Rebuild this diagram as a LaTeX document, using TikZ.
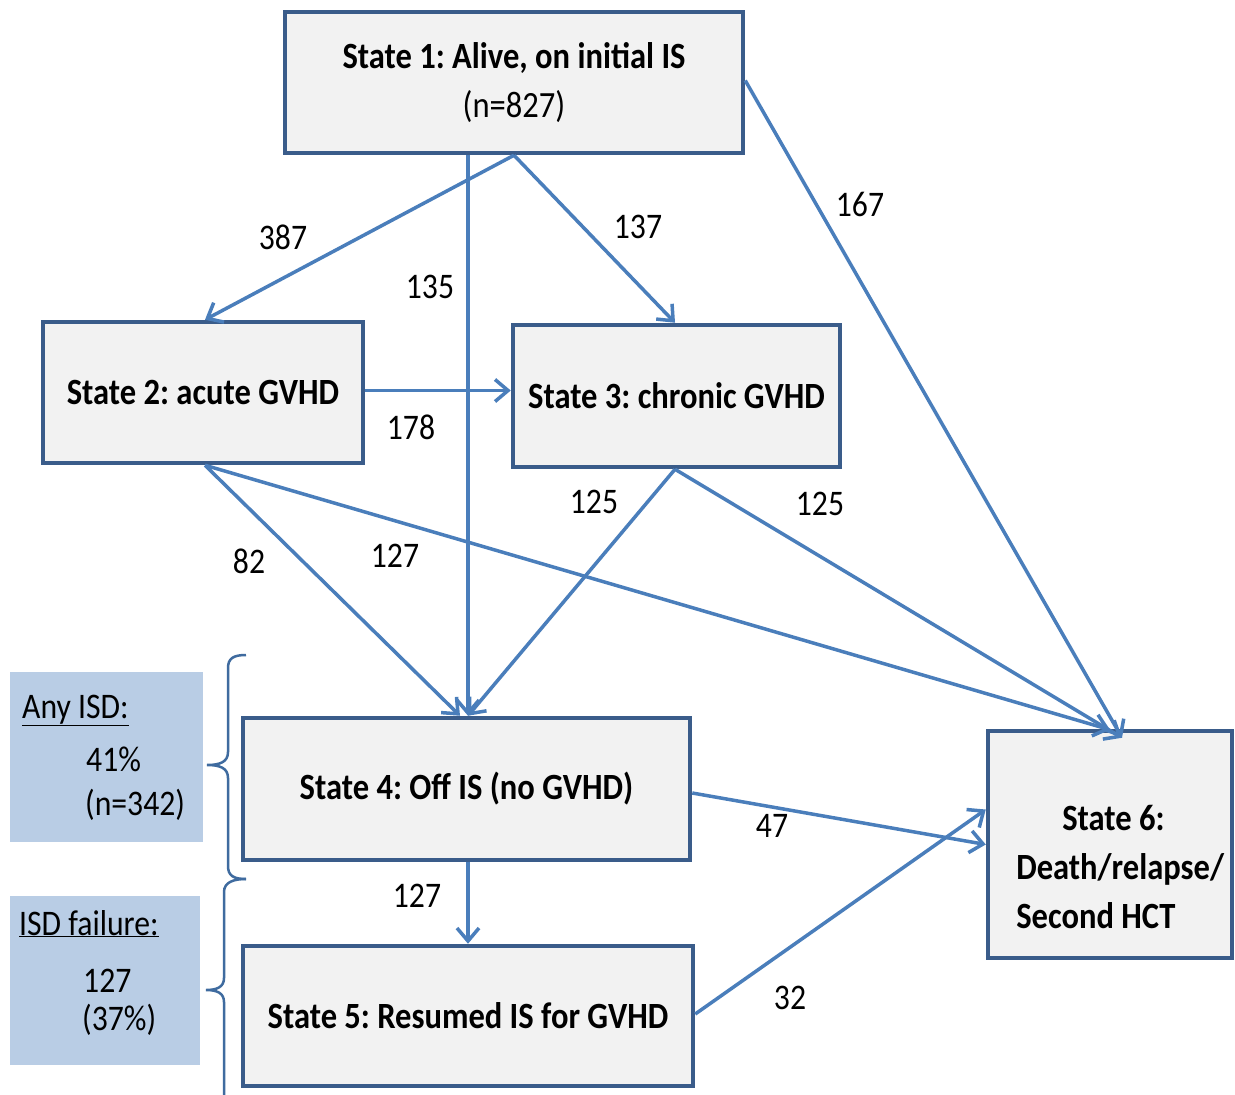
\documentclass[tikz,border=0pt]{standalone}
\usepackage{fontspec}
\setmainfont{Carlito}[FakeStretch=0.88]
\usetikzlibrary{arrows.meta}
\definecolor{boxline}{HTML}{3A5C8A}
\definecolor{arrowblue}{HTML}{4A7EBB}
\definecolor{boxfill}{HTML}{F2F2F2}
\definecolor{sidefill}{HTML}{B9CDE5}
\tikzset{
  statebox/.style={draw=boxline, line width=4.5pt, fill=boxfill, inner sep=0pt, align=center,
     font=\frenchspacing\fontsize{37}{49}\selectfont\bfseries},
  sidebox/.style={fill=sidefill, draw=none, inner sep=0pt},
  sidetext/.style={anchor=base west, inner sep=0pt, font=\frenchspacing\fontsize{36}{40}\selectfont},
  flow/.style={draw=arrowblue, line width=3.5pt, -{Straight Barb[length=13pt,width=22pt,line width=3.5pt]}},
  count/.style={inner sep=0pt, font=\fontsize{36}{40}\selectfont},
  bracket/.style={draw=arrowblue!85!black, line width=2.5pt},
}
\begin{document}
\begin{tikzpicture}[x=1pt,y=-1pt]
\useasboundingbox (0,0) rectangle (1235,1095);
% state boxes
\node[statebox, minimum width=458pt, minimum height=141pt] (b1) at (514,82.5)
   {State 1: Alive, on initial IS\\{\mdseries (n=827)}};
\node[statebox, minimum width=320pt, minimum height=141pt] (b2) at (203,392.5) {State 2: acute GVHD};
\node[statebox, minimum width=327pt, minimum height=142pt] (b3) at (676.5,396) {State 3: chronic GVHD};
\node[statebox, minimum width=447pt, minimum height=142pt] (b4) at (466.5,789) {State 4: Off IS (no GVHD)};
\node[statebox, minimum width=450pt, minimum height=140pt] (b5) at (468,1016) {State 5: Resumed IS for GVHD};
\node[statebox, minimum width=244pt, minimum height=227pt] (b6) at (1110,844.5) {};
\node[statebox, draw=none, fill=none, align=left, anchor=north west] (b6t) at (1014,803)
   {\hspace*{46pt}State 6:\\Death/relapse/\\Second HCT};
% side boxes
\node[sidebox, minimum width=193pt, minimum height=170pt] (sa) at (106.5,757) {};
\node[sidebox, minimum width=190pt, minimum height=169pt] (sb) at (105,980.5) {};
\node[sidetext] (sa1) at (22,718) {\underline{Any ISD:}};
\node[sidetext] (sa2) at (86,771) {41\%};
\node[sidetext] (sa3) at (85,815) {(n=342)};
\node[sidetext] (sb1) at (19,935) {\underline{ISD failure:}};
\node[sidetext] (sb2) at (83,992) {127};
\node[sidetext] (sb3) at (82,1030) {(37\%)};
% braces
\draw[bracket] (246,655) .. controls (234,655) and (228,658) .. (228,668) -- (228,752)
   .. controls (228,762) and (220,765) .. (207,765) .. controls (220,765) and (228,768) .. (228,778)
   -- (228,866) .. controls (228,876) and (234,879) .. (246,879);
\draw[bracket] (246,879) .. controls (234,879) and (224,882) .. (224,892) -- (224,978)
   .. controls (224,987) and (217,990) .. (206,990) .. controls (217,990) and (224,993) .. (224,1002)
   -- (224,1095);
% flows
\draw[flow] (b1.south) -- ([xshift=2pt]b2.north);
\draw[flow] ([xshift=-46pt]b1.south) -- ([xshift=1.5pt]b4.north);
\draw[flow] (b1.south) -- ([xshift=-1.5pt]b3.north);
\draw[flow] ([yshift=2pt]b1.east) -- ([xshift=12pt,yshift=-9pt]b6.north);
\draw[flow] ([yshift=2pt]b2.east) -- ([yshift=2pt]b2.east -| b3.west);
\draw[flow] ([xshift=2pt]b2.south) -- ([xshift=-6.5pt]b4.north);
\draw[flow] ([xshift=2pt]b2.south) -- ([yshift=-1pt]b6.north);
\draw[flow] ([xshift=-1.5pt]b3.south) -- ([xshift=1.5pt]b4.north);
\draw[flow] ([xshift=-1.5pt]b3.south) -- ([xshift=12pt,yshift=-9pt]b6.north);
\draw[flow] ([yshift=-4pt]b4.east) -- (b6.west);
\draw[flow] ([xshift=1.5pt]b4.south) -- ([xshift=1.5pt]b4.south |- b5.north);
\draw[flow] ([yshift=2pt]b5.east) -- ([yshift=35pt]b6.west);
% counts
\node[count] (c387) at (283,237) {387};
\node[count] (c135) at (430,287) {135};
\node[count] (c137) at (638,227) {137};
\node[count] (c167) at (860,204) {167};
\node[count] (c178) at (411,427) {178};
\node[count] (c82) at (249,561) {82};
\node[count] (c127a) at (395,556) {127};
\node[count] (c125a) at (594,502) {125};
\node[count] (c125b) at (820,504) {125};
\node[count] (c47) at (772,826) {47};
\node[count] (c127b) at (417,896) {127};
\node[count] (c32) at (790,998) {32};
\end{tikzpicture}
\end{document}
